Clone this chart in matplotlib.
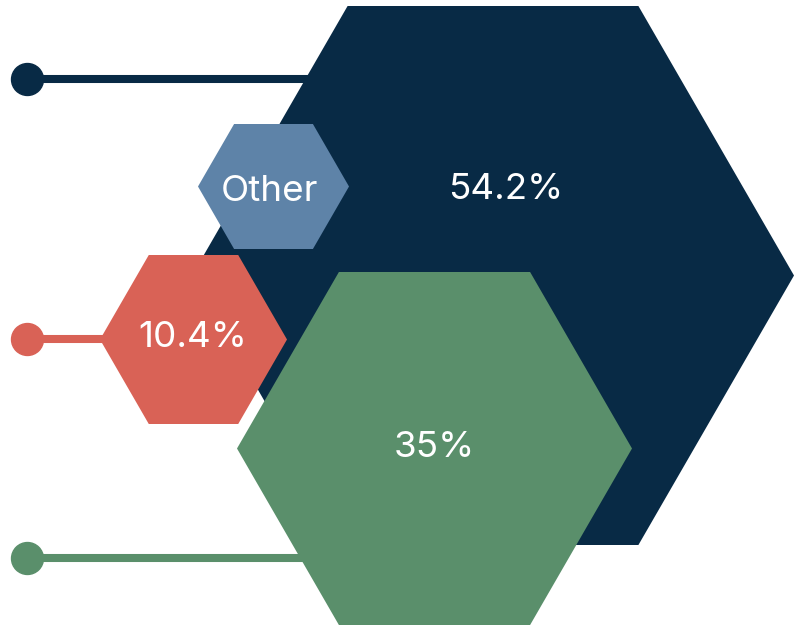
import numpy as np
import matplotlib.pyplot as plt
from matplotlib.patches import Polygon

# shares shown on the hexagons
labels = ["54.2%", "Other", "10.4%", "35%"]
colors = ["#082a45", "#5e83a8", "#d96256", "#5a8f6b"]

# layout (pixel space): centre, half width (to side vertex), half height
centers = [(493, 275.5), (273.5, 186.5), (193.5, 339.5), (434.5, 448.5)]
half_w = [301, 75.5, 93.5, 197.5]
half_h = [269.5, 62.5, 84.5, 176.5]
label_pos = [(506, 199), (270, 201), (193, 347), (434, 457)]

# connector lines: y position, colour index
line_y = [79, 339, 558]
line_color = [0, 2, 3]
dot_x = 27


def hexagon(cx, cy, hw, hh):
    dx = hh / np.sqrt(3)
    return [(cx - hw, cy), (cx - hw + dx, cy - hh), (cx + hw - dx, cy - hh),
            (cx + hw, cy), (cx + hw - dx, cy + hh), (cx - hw + dx, cy + hh)]


fig = plt.figure(figsize=(8.04, 6.26), dpi=100)
ax = fig.add_axes([0, 0, 1, 1])
ax.set_xlim(0, 804)
ax.set_ylim(626, 0)
ax.axis("off")

for y, ci in zip(line_y, line_color):
    # line runs under the hexagon it connects to
    ax.plot([dot_x, centers[ci][0]], [y, y], color=colors[ci], lw=5.8,
            solid_capstyle="butt", zorder=1)
    ax.plot(dot_x, y, "o", color=colors[ci], ms=23, zorder=1)

for i, (c, hw, hh) in enumerate(zip(centers, half_w, half_h)):
    ax.add_patch(Polygon(hexagon(c[0], c[1], hw, hh), closed=True,
                         facecolor=colors[i], edgecolor="none", zorder=2 + i))
    ax.text(label_pos[i][0], label_pos[i][1], labels[i], color="white",
            fontsize=26.5, family=["Inter", "DejaVu Sans"],
            ha="center", va="baseline", zorder=10)

plt.savefig("out.png", dpi=100)
